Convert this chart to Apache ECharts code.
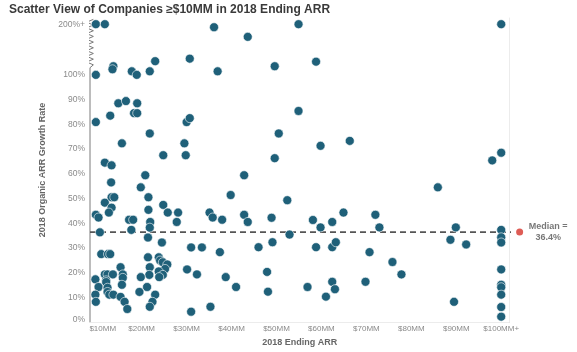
<!DOCTYPE html>
<html><head><meta charset="utf-8">
<script src="https://cdn.jsdelivr.net/npm/echarts@6/dist/echarts.min.js"></script>
<style>html,body{margin:0;padding:0;background:#fff}#c{width:577px;height:352px}</style>
</head><body><div id="c"></div>
<script>
// ---- data ----
const xTickValues = [10, 20, 30, 40, 50, 60, 70, 80, 90, 100];
const yTickValues = [0, 10, 20, 30, 40, 50, 60, 70, 80, 90, 100, 200];
// 2018 Ending ARR ($MM); 100 means "$100MM+"
const endingArrMM = [
  9.8, 11.8, 36.1, 43.6, 54.9, 100,
  9.8, 13.7, 13.5, 17.8, 18.9, 21.8, 23.0, 30.7, 36.9, 49.6, 58.8,
  14.8, 16.5, 19.0, 18.3, 19.0, 13.0, 9.8, 30.0, 30.7,
  54.9, 50.5, 59.8, 66.3, 49.6,
  21.8, 15.6, 29.5, 24.8, 29.8, 11.8, 13.3, 42.8, 20.8, 13.2, 19.8, 39.8, 13.3, 13.9, 21.5, 11.8, 13.3, 24.8, 12.7, 21.5, 25.8, 28.1, 35.1, 35.8, 37.9, 42.8, 43.6, 9.8, 10.4, 17.2, 18.1, 21.9, 27.8,
  17.7, 21.8, 10.7, 21.4, 24.5, 11.0, 12.5, 13.0, 31.0, 33.4, 37.4, 21.4, 23.8, 24.1, 24.7, 25.7, 15.3, 21.8, 25.2, 23.8, 24.7, 23.9, 21.7, 30.1, 32.3, 38.7, 41.0, 9.7, 11.8, 12.4, 13.6, 15.8, 15.8, 12.1, 12.1, 19.8, 10.4, 12.4, 15.6, 21.2, 19.5, 12.4, 12.8, 13.7, 9.7, 15.3, 23.0, 22.4, 16.2, 9.8, 21.8, 16.8, 31.0, 35.3,
  52.4, 48.9, 58.1, 62.4, 64.9, 72.0, 59.8, 72.9, 52.9, 46.0, 49.1, 58.8, 62.4, 63.2, 70.7, 75.8, 77.8, 47.9, 48.1, 56.9, 62.4, 63.0, 61.0, 69.8,
  100, 98.0, 85.9, 89.9, 88.7, 92.2, 100, 100, 100, 100, 100, 100, 100, 100, 100, 89.5
];
// 2018 Organic ARR Growth Rate (%); 200 means "200%+"
const growthPct = [
  200, 200, 194, 175, 200, 200,
  100, 117, 111, 107, 100, 107, 127, 132, 107, 117, 126,
  88.5, 89.4, 88.5, 84.5, 84.5, 83.5, 80.9, 80.9, 82.5,
  85.4, 76.3, 71.3, 73.3, 66.3,
  76.3, 72.3, 72.3, 67.5, 67.5, 64.5, 63.4, 59.4, 59.4, 56.5, 54.5, 51.4, 50.5, 50.5, 50.5, 48.3, 46.3, 47.4, 44.3, 45.4, 44.3, 44.3, 44.3, 42.3, 41.4, 43.4, 40.5, 43.4, 42.3, 41.4, 41.4, 40.5, 40.5,
  37.3, 38.2, 36.3, 34.2, 32.2, 27.5, 27.5, 27.5, 30.2, 30.2, 28.3, 26.2, 26.2, 24.9, 24.2, 23.3, 22.2, 22.2, 21.5, 20.5, 19.1, 18.2, 19.1, 21.3, 19.3, 18.2, 14.2, 17.3, 19.3, 19.3, 19.3, 19.3, 17.9, 16.9, 16.2, 18.2, 14.2, 13.9, 15.1, 14.2, 12.2, 12.2, 11.1, 11.1, 11.1, 10.2, 11.1, 8.2, 8.2, 8.2, 6.2, 5.3, 4.2, 6.2,
  49.3, 42.2, 41.3, 40.5, 44.3, 43.4, 38.3, 38.3, 35.4, 30.3, 32.3, 30.3, 30.3, 32.3, 28.3, 24.3, 19.3, 20.3, 12.3, 14.2, 16.3, 13.3, 10.3, 16.3,
  68.5, 65.4, 54.5, 38.3, 33.3, 31.4, 37.3, 34.3, 32.2, 21.3, 15.1, 14.1, 11.1, 6.1, 2.2, 8.2
];
const medianGrowth = 36.4;
const medianLabel = ['Median =', '36.4%'];

// ---- scale helpers (compressed axis above 100%) ----
const BREAK_SCALE = 0.205;
function toAxis(v) { return v <= 100 ? v : 100 + (v - 100) * BREAK_SCALE; }
const X_MIN = 8.5, X_MAX = 101.8, Y_MIN = 0, Y_MAX = 123;
const MEDIAN_X = 104.1;

const points = endingArrMM.map((x, i) => [x, toAxis(growthPct[i])]);

// y axis line with zigzag break between 100% and 200%+
const axisPath = [[X_MIN, Y_MIN], [X_MIN, 102.9]];
(function () {
  let y = 102.9, k = 0;
  while (y < 122) { y += 1.15; k++; axisPath.push([X_MIN + (k % 2 ? 0.75 : -0.75), y]); }
})();

const font = "'Liberation Sans', Arial, sans-serif";
const chart = echarts.init(document.getElementById('c'));
chart.setOption({
  animation: false,
  backgroundColor: '#fff',
  title: {
    text: 'Scatter View of Companies \u2265$10MM in 2018 Ending ARR',
    left: 4, top: -1,
    textStyle: { fontFamily: font, fontSize: 12, fontWeight: 'bold', color: '#3a3a3a' }
  },
  grid: { left: 90, right: 67.7, top: 18, bottom: 26.5 },
  xAxis: [{
    type: 'value', min: X_MIN, max: X_MAX,
    name: '2018 Ending ARR', nameLocation: 'middle', nameGap: 12.5,
    nameTextStyle: { fontFamily: font, fontSize: 9, fontWeight: 'bold', color: '#666' },
    axisLine: { show: true, lineStyle: { color: '#c8c8c8', width: 1 } },
    axisTick: { show: false },
    splitLine: { show: false },
    axisLabel: {
      customValues: xTickValues, margin: 3,
      fontFamily: font, fontSize: 8, color: '#8a8a8a',
      formatter: v => v === 100 ? '$100MM+' : (v === 10 ? '{f|$10MM}' : '$' + v + 'MM'),
      rich: { f: { fontFamily: font, fontSize: 8, color: '#8a8a8a', padding: [0, 0, 0, 12] } }
    }
  }, {
    type: 'value', position: 'top', min: X_MIN, max: X_MAX,
    axisLine: { show: true, lineStyle: { color: '#ececec' } },
    axisTick: { show: false }, axisLabel: { show: false }, splitLine: { show: false }
  }],
  yAxis: [{
    type: 'value', min: Y_MIN, max: Y_MAX,
    name: '2018 Organic ARR Growth Rate', nameLocation: 'middle', nameGap: 33,
    nameTextStyle: { fontFamily: font, fontSize: 9, fontWeight: 'bold', color: '#666' },
    axisLine: { show: false },
    axisTick: { show: false },
    splitLine: { show: false },
    axisLabel: {
      customValues: yTickValues.map(toAxis), margin: 5,
      fontFamily: font, fontSize: 8.5, color: '#8a8a8a',
      formatter: v => {
        if (v > 100) return '200%+';
        const r = Math.round(v);
        return r === 0 ? '{z|0%}' : r + '%';
      },
      rich: { z: { fontFamily: font, fontSize: 8.5, color: '#8a8a8a', padding: [0, 0, 5, 0] } }
    }
  }, {
    type: 'value', position: 'right', min: Y_MIN, max: Y_MAX,
    axisLine: { show: true, lineStyle: { color: '#ececec' } },
    axisTick: { show: false }, axisLabel: { show: false }, splitLine: { show: false }
  }],
  series: [
    {
      type: 'line', data: axisPath, symbol: 'none', clip: false, silent: true, z: 1,
      lineStyle: { color: '#7a7a7a', width: 1 }
    },
    {
      type: 'line', data: [[X_MIN, medianGrowth], [MEDIAN_X - 0.8, medianGrowth]],
      symbol: 'none', clip: false, silent: true, z: 2,
      lineStyle: { color: '#555', width: 1.6, type: [6, 4] }
    },
    {
      type: 'scatter', data: points, symbolSize: 9, z: 3,
      itemStyle: { color: '#1f6079', borderColor: '#ffffff', borderWidth: 0.6, opacity: 1 }
    },
    {
      type: 'scatter', data: [[MEDIAN_X, medianGrowth]], symbolSize: 7, clip: false, z: 4,
      itemStyle: { color: '#d6332a' },
      label: {
        show: true, position: 'right', distance: 3,
        formatter: '{a|' + medianLabel[0] + '}\n{a|' + medianLabel[1] + '}',
        rich: { a: { width: 44, align: 'center', fontFamily: font, fontSize: 9, fontWeight: 'bold', color: '#555', lineHeight: 11 } }
      }
    }
  ]
});
</script>
</body></html>
